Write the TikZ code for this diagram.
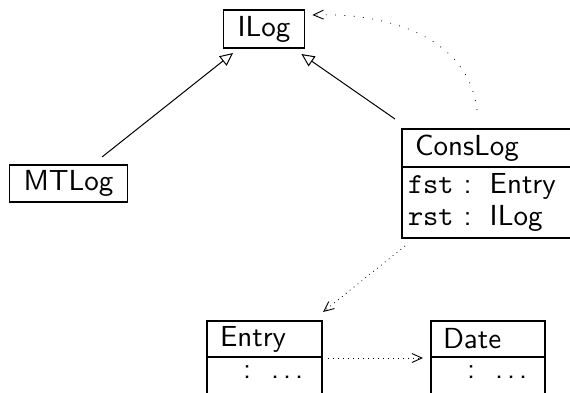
\documentclass[tikz,border=0pt]{standalone}
\usepackage{fontspec}
\setsansfont{lmsans10-regular.otf}
\setmonofont{lmmono10-regular.otf}
\usetikzlibrary{arrows.meta,shadows}
\newcommand{\mydots}{.\hspace{4pt}.\hspace{4pt}.}
\begin{document}
\begin{tikzpicture}[x=1pt,y=-1pt,
  every node/.style={font=\fontsize{29}{32}\selectfont\sffamily},
  box/.style={draw,line width=1.1pt,fill=white,outer sep=0pt,inner ysep=0pt},
  shbox/.style={box,drop shadow={shadow xshift=1pt,shadow yshift=-1pt,opacity=1,fill=black}},
  head/.style={box,anchor=north west,inner xsep=13pt,align=left,minimum height=38pt},
  body/.style={box,anchor=north west,inner xsep=6pt,align=left,minimum height=71pt},
  gen/.style={line width=1pt,-{Triangle[open,length=13pt,width=12pt,line width=1pt]}},
  dep/.style={line width=0.8pt,dash pattern=on 0.8pt off 4.2pt,-{Straight Barb[length=10pt,width=9pt,line width=0.9pt]}},
  depwide/.style={dep,dash pattern=on 0.8pt off 8.5pt}]
\useasboundingbox (0,0) rectangle (570,392);
\clip (0,0) rectangle (570,392);
% classes
\node[shbox,inner xsep=14pt,minimum width=80pt,minimum height=38pt] (ilog) at (264,29) {ILog};
\node[shbox,inner xsep=14pt,minimum width=117pt,minimum height=37pt] (mtlog) at (68.5,183.5) {MTLog};
\node[head,text width=164pt] (consH) at (402,129) {ConsLog};
\node[body,text width=178pt] (consB) at (402,167)
  {\texttt{fst}\hspace{10pt}:\hspace{18pt}Entry\\\texttt{rst}\hspace{10pt}:\hspace{18pt}ILog};
\node[head,text width=89pt,inner xsep=13pt,minimum height=36pt] (entH) at (207,321) {Entry};
\node[body,text width=103pt] (entB) at (207,357) {\hspace*{30pt}:\hspace{20pt}\mydots\\\strut};
\node[head,text width=90pt,inner xsep=12pt,minimum height=36pt] (dateH) at (431,321) {Date};
\node[body,text width=102pt] (dateB) at (431,357) {\hspace*{30pt}:\hspace{20pt}\mydots\\\strut};
% connectors
\draw[gen] ([xshift=33.5pt,yshift=8pt]mtlog.north) -- ([xshift=-31pt,yshift=-5pt]ilog.south);
\draw[gen] ([xshift=-7pt,yshift=10pt]consH.north west) -- ([xshift=-3pt,yshift=-6pt]ilog.south east);
\draw[depwide] ([xshift=-8pt,yshift=19pt]consH.north west) ++(83pt,0) to[out=97,in=2] ([xshift=8pt,yshift=-5pt]ilog.north east);
\draw[dep] ([xshift=3pt,yshift=-8pt]consB.south west) -- ([xshift=1pt,yshift=9pt]entH.north east);
\draw[dep] ([xshift=6pt,yshift=-1pt]entH.south east) -- ([xshift=-8pt,yshift=-1pt]dateH.south west);
\end{tikzpicture}
\end{document}
